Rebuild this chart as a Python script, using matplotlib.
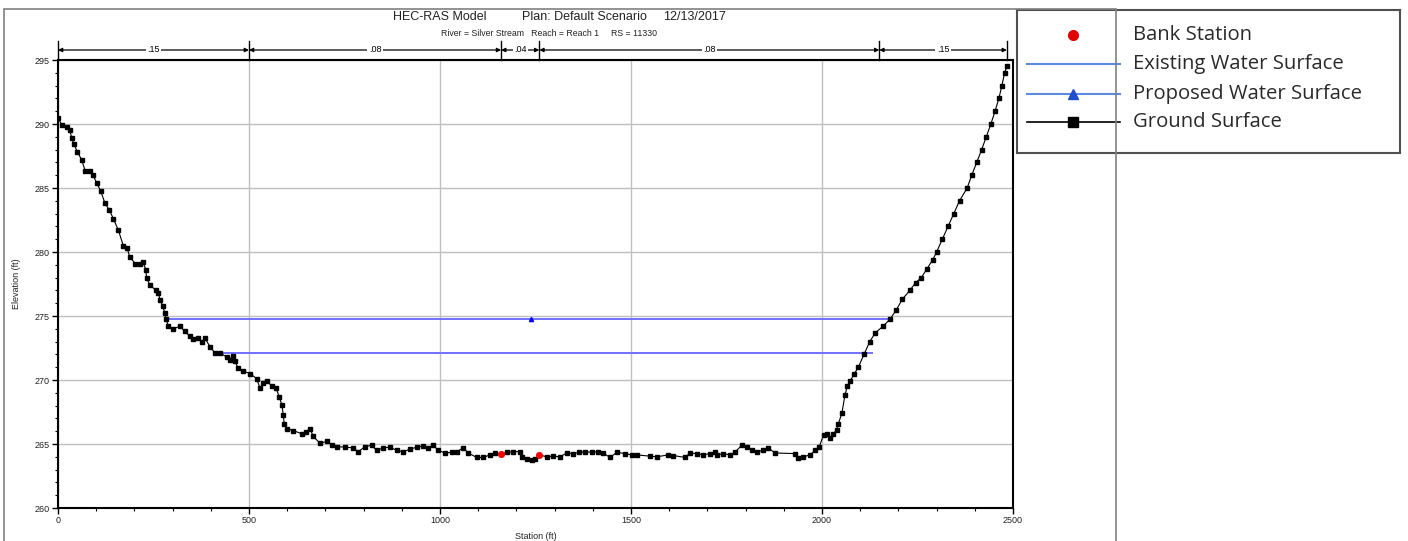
import matplotlib
matplotlib.use("Agg")
import matplotlib.pyplot as plt
import matplotlib.transforms as mtransforms
from matplotlib.patches import Rectangle

# ground surface
station = [0, 10, 23, 31, 36, 42, 51, 62, 71, 84, 92, 101, 112, 123, 134, 145, 158, 171, 181, 188,
           202, 215, 223, 230, 232, 241, 257, 263, 267, 274, 280, 283, 289, 302, 319, 332, 346, 354,
           367, 376, 385, 398, 411, 424, 442, 450, 457, 463, 472, 485, 503, 520, 529, 537, 548, 559,
           571, 579, 586, 590, 592, 600, 616, 638, 649, 660, 668, 686, 703, 717, 730, 751, 773, 786,
           804, 821, 834, 852, 869, 887, 904, 922, 939, 956, 969, 982, 996, 1013, 1031, 1044, 1061,
           1074, 1096, 1113, 1131, 1144, 1160, 1175, 1192, 1209, 1214, 1227, 1240, 1249, 1260, 1279,
           1297, 1314, 1332, 1349, 1365, 1380, 1397, 1414, 1427, 1445, 1463, 1484, 1502, 1515, 1550,
           1567, 1598, 1611, 1641, 1655, 1672, 1689, 1707, 1720, 1724, 1742, 1759, 1772, 1790, 1803,
           1816, 1829, 1846, 1859, 1877, 1929, 1938, 1951, 1969, 1982, 1993, 2004, 2012, 2021, 2030,
           2038, 2043, 2052, 2060, 2066, 2073, 2085, 2095, 2110, 2125, 2140, 2160, 2178, 2195, 2210,
           2230, 2245, 2260, 2275, 2290, 2300, 2315, 2330, 2345, 2360, 2380, 2392, 2405, 2418, 2430,
           2442, 2453, 2463, 2471, 2478, 2484]
elevation = [290.5, 289.9, 289.8, 289.5, 288.9, 288.4, 287.8, 287.2, 286.35, 286.3, 286.0, 285.4,
             284.75, 283.8, 283.3, 282.6, 281.7, 280.5, 280.3, 279.6, 279.1, 279.05, 279.2, 278.6,
             277.95, 277.4, 277.0, 276.8, 276.25, 275.8, 275.2, 274.75, 274.2, 274.0, 274.2, 273.8,
             273.4, 273.2, 273.25, 273.0, 273.25, 272.6, 272.1, 272.1, 271.8, 271.6, 271.9, 271.45,
             270.9, 270.7, 270.5, 270.1, 269.35, 269.75, 269.95, 269.5, 269.35, 268.7, 268.05, 267.25,
             266.6, 266.2, 266.05, 265.8, 265.95, 266.2, 265.6, 265.05, 265.2, 264.95, 264.8, 264.75,
             264.7, 264.4, 264.8, 264.9, 264.5, 264.7, 264.75, 264.5, 264.4, 264.6, 264.75, 264.85,
             264.7, 264.9, 264.5, 264.3, 264.35, 264.4, 264.7, 264.3, 263.95, 263.95, 264.15, 264.3,
             264.2, 264.35, 264.4, 264.4, 264.0, 263.8, 263.75, 263.8, 264.15, 264.0, 264.05, 264.0,
             264.3, 264.25, 264.35, 264.4, 264.35, 264.4, 264.3, 263.95, 264.35, 264.25, 264.15,
             264.15, 264.05, 264.0, 264.15, 264.1, 263.95, 264.3, 264.25, 264.15, 264.25, 264.4,
             264.15, 264.25, 264.15, 264.35, 264.9, 264.75, 264.55, 264.4, 264.5, 264.7, 264.3,
             264.25, 263.9, 264.0, 264.15, 264.5, 264.8, 265.7, 265.8, 265.5, 265.8, 266.1, 266.6,
             267.4, 268.8, 269.5, 269.9, 270.5, 271.0, 272.0, 273.0, 273.7, 274.2, 274.75, 275.5,
             276.3, 277.0, 277.6, 278.0, 278.7, 279.4, 280.0, 281.0, 282.0, 283.0, 284.0, 285.0,
             286.0, 287.0, 288.0, 289.0, 290.0, 291.0, 292.0, 293.0, 294.0, 294.5]

bank_sta = [1160, 1260]
bank_elev = [264.2, 264.15]

existing_ws = 272.12
existing_ext = [411, 2131]
proposed_ws = 274.77
proposed_ext = [283, 2178]
proposed_mark = 1238

n_breaks = [0, 500, 1160, 1260, 2150, 2484]
n_values = [".15", ".08", ".04", ".08", ".15"]

W, H = 1408, 541
fig = plt.figure(figsize=(W / 100, H / 100), dpi=100)
plt.rcParams['font.family'] = ['Liberation Sans', 'DejaVu Sans']


def fx(x):
    return x / W


def fy(y):
    return 1 - y / H


# outer gray frame of the HEC-RAS window
fig.patches.append(Rectangle((fx(4), fy(545)), fx(1116) - fx(4), fy(9) - fy(545),
                             transform=fig.transFigure, fill=False, ec='#808080', lw=1.2))

ax = fig.add_axes([fx(58), fy(508), fx(1013) - fx(58), fy(60) - fy(508)])
ax.set_xlim(0, 2500)
ax.set_ylim(260, 295)
ax.set_xticks(range(0, 2501, 500))
ax.set_xticks(range(0, 2501, 100), minor=True)
ax.set_yticks(range(260, 296, 5))
ax.set_yticks(range(260, 296, 1), minor=True)
ax.grid(True, which='major', color='#c0c0c0', lw=1)
ax.set_axisbelow(True)
ax.tick_params(labelsize=6.5, length=4, width=1, direction='out', pad=2, labelcolor='#222222')
ax.tick_params(which='minor', length=2.5, width=0.8)
for s in ax.spines.values():
    s.set_linewidth(1.5)
ax.set_xlabel("Station (ft)", fontsize=6.5, labelpad=5, color='#222222')
ax.set_ylabel("Elevation (ft)", fontsize=6.5, labelpad=10, color='#222222')

ax.plot(proposed_ext, [proposed_ws, proposed_ws], color='#7070ff', lw=1.4, zorder=3)
ax.plot(existing_ext, [existing_ws, existing_ws], color='#7070ff', lw=1.4, zorder=3)
ax.plot([proposed_mark], [proposed_ws], marker='^', color='#0000ff', ms=3, zorder=4)
ax.plot(station, elevation, color='black', lw=0.8, marker='s', ms=2.2, zorder=5)
ax.plot(bank_sta, bank_elev, 'o', color='#ff0000', ms=4, zorder=6)

# Manning's n bar over the plot
trans = mtransforms.blended_transform_factory(ax.transData, ax.transAxes)
ybar = 1 + 10 / 448
for b in n_breaks:
    ax.plot([b, b], [1.0, 1 + 19 / 448], color='black', lw=1, transform=trans, clip_on=False)
for i, lab in enumerate(n_values):
    a, b = n_breaks[i], n_breaks[i + 1]
    ax.annotate('', xy=(a, ybar), xytext=(b, ybar), xycoords=trans, textcoords=trans,
                arrowprops=dict(arrowstyle='<|-|>', color='black', lw=0.9,
                                mutation_scale=6, shrinkA=0, shrinkB=0))
    ax.text((a + b) / 2, ybar, lab, transform=trans, fontsize=6.5, ha='center', va='center',
            bbox=dict(facecolor='white', edgecolor='none', pad=1))

# titles
fig.text(fx(393), fy(17), "HEC-RAS Model", fontsize=9, va='center', ha='left', color='#222222')
fig.text(fx(522), fy(17), "Plan: Default Scenario", fontsize=9, va='center', ha='left',
         color='#222222')
fig.text(fx(663), fy(17), "12/13/2017", fontsize=9, va='center', ha='left', color='#222222')
fig.text(fx(549), fy(33), "River = Silver Stream   Reach = Reach 1     RS = 11330",
         fontsize=6.3, va='center', ha='center', color='#222222')

# legend box drawn by hand
lg = fig.add_axes([fx(1017), fy(153), fx(1400) - fx(1017), fy(10) - fy(153)])
lg.set_xlim(1017, 1400)
lg.set_ylim(153, 10)
lg.set_xticks([])
lg.set_yticks([])
for s in lg.spines.values():
    s.set_linewidth(1.5)
    s.set_color('#505050')
rows = [35, 64, 94, 122]
labels = ["Bank Station", "Existing Water Surface", "Proposed Water Surface", "Ground Surface"]
lg.plot([1073], [rows[0]], 'o', color='#e00000', ms=7)
lg.plot([1027, 1120], [rows[1], rows[1]], color='#5b8ae0', lw=1.5)
lg.plot([1027, 1120], [rows[2], rows[2]], color='#5b8ae0', lw=1.5)
lg.plot([1073], [rows[2]], '^', color='#1f4fd0', ms=7)
lg.plot([1027, 1120], [rows[3], rows[3]], color='black', lw=1.2)
lg.plot([1073], [rows[3]], 's', color='black', ms=7)
for r, t in zip(rows, labels):
    lg.text(1133, r, t, fontsize=14.6, va='center', ha='left', color='#2a2a2a',
            family=['Open Sans', 'DejaVu Sans'])

fig.savefig("out.png", dpi=100)
